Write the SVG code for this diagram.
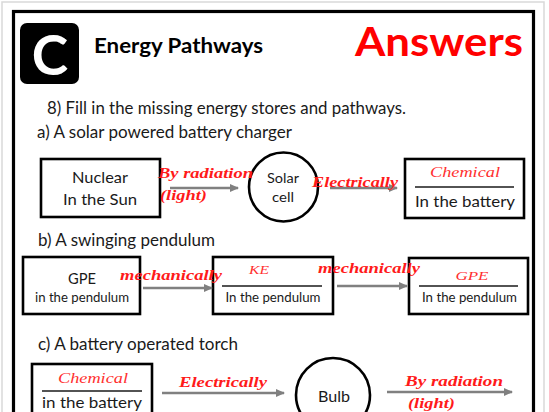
<svg xmlns="http://www.w3.org/2000/svg" width="549" height="412" viewBox="0 0 549 412">
<defs>
<style>
.t{font-family:Lato,"Liberation Sans",sans-serif;fill:#1a1a1a}
.b{fill:#fff;stroke:#000;stroke-width:2.6}
.r{font-family:"Liberation Serif",serif;font-style:italic;font-weight:bold;fill:#ff1a1a}
.rt{font-family:"Liberation Serif",serif;font-style:italic;font-weight:normal;fill:#ff3030}
.ul{stroke:#1a1a1a;stroke-width:1.3}
.ar{stroke:#808080;stroke-width:2.5;fill:none;marker-end:url(#ah)}
</style>
<marker id="ah" markerUnits="userSpaceOnUse" markerWidth="10" markerHeight="10" refX="8" refY="5" orient="auto">
<path d="M0,1 L9,5 L0,9 Z" fill="#808080"/>
</marker>
</defs>
<rect x="0" y="0" width="549" height="412" fill="#fff"/>
<rect x="2" y="2" width="542" height="420" fill="none" stroke="#d9d9d9" stroke-width="1.5"/>
<rect x="13.5" y="11.5" width="520" height="420" fill="none" stroke="#000" stroke-width="3.2"/>

<g id="header">
<rect x="20" y="23" width="59" height="61" rx="7" fill="#000"/>
<text x="50" y="75" text-anchor="middle" font-family="Lato,'Liberation Sans',sans-serif" font-weight="bold" font-size="55" fill="#fff">C</text>
<text x="94" y="53" font-family="Lato,'Liberation Sans',sans-serif" font-weight="bold" font-size="20" fill="#000" textLength="169" lengthAdjust="spacingAndGlyphs">Energy Pathways</text>
<text x="355" y="56" font-family="Lato,'Liberation Sans',sans-serif" font-weight="bold" font-size="40" fill="#ff0000" textLength="168" lengthAdjust="spacingAndGlyphs">Answers</text>
<text class="t" x="47" y="114" font-size="16.5" textLength="359" lengthAdjust="spacingAndGlyphs">8) Fill in the missing energy stores and pathways.</text>
<text class="t" x="37" y="138" font-size="16.5" textLength="255" lengthAdjust="spacingAndGlyphs">a) A solar powered battery charger</text>
<text class="t" x="38" y="246" font-size="16.5" textLength="177" lengthAdjust="spacingAndGlyphs">b) A swinging pendulum</text>
<text class="t" x="38" y="350" font-size="16.5" textLength="200" lengthAdjust="spacingAndGlyphs">c) A battery operated torch</text>
</g>

<g id="nuclear-sun">
<rect class="b" x="41" y="159" width="119" height="58"/>
<text class="t" x="100" y="183" font-size="16" text-anchor="middle" textLength="56" lengthAdjust="spacingAndGlyphs">Nuclear</text>
<text class="t" x="100" y="205" font-size="16" text-anchor="middle" textLength="74" lengthAdjust="spacingAndGlyphs">In the Sun</text>
</g>

<g id="solar-cell">
<circle class="b" cx="283.5" cy="187" r="34.5"/>
<text class="t" x="283" y="183" font-size="14" text-anchor="middle" textLength="32" lengthAdjust="spacingAndGlyphs">Solar</text>
<text class="t" x="283" y="202" font-size="14" text-anchor="middle" textLength="22" lengthAdjust="spacingAndGlyphs">cell</text>
</g>

<g id="battery-a">
<rect class="b" x="405" y="159" width="119" height="59"/>
<text class="rt" x="465" y="177" font-size="14" text-anchor="middle" textLength="70" lengthAdjust="spacingAndGlyphs">Chemical</text>
<line class="ul" x1="415" y1="187" x2="514" y2="187"/>
<text class="t" x="465" y="207" font-size="16" text-anchor="middle" textLength="100" lengthAdjust="spacingAndGlyphs">In the battery</text>
</g>

<g id="gpe-1">
<rect class="b" x="23" y="257" width="117" height="57"/>
<text class="t" x="82" y="284" font-size="16" text-anchor="middle" textLength="28" lengthAdjust="spacingAndGlyphs">GPE</text>
<text class="t" x="82" y="302" font-size="14" text-anchor="middle" textLength="94" lengthAdjust="spacingAndGlyphs">in the pendulum</text>
</g>

<g id="ke">
<rect class="b" x="213" y="257" width="120" height="57"/>
<text class="rt" x="259" y="274" font-size="13" text-anchor="middle" textLength="20" lengthAdjust="spacingAndGlyphs">KE</text>
<line class="ul" x1="222" y1="286" x2="322" y2="286"/>
<text class="t" x="273" y="302" font-size="14" text-anchor="middle" textLength="95" lengthAdjust="spacingAndGlyphs">In the pendulum</text>
</g>

<g id="gpe-2">
<rect class="b" x="409" y="258" width="119" height="56"/>
<text class="rt" x="472" y="280" font-size="13" text-anchor="middle" textLength="33" lengthAdjust="spacingAndGlyphs">GPE</text>
<line class="ul" x1="419" y1="286" x2="518" y2="286"/>
<text class="t" x="469.5" y="302" font-size="14" text-anchor="middle" textLength="95" lengthAdjust="spacingAndGlyphs">In the pendulum</text>
</g>

<g id="battery-c">
<rect class="b" x="32" y="364" width="120" height="60"/>
<text class="rt" x="93" y="383" font-size="14" text-anchor="middle" textLength="70" lengthAdjust="spacingAndGlyphs">Chemical</text>
<line class="ul" x1="42" y1="391" x2="142" y2="391"/>
<text class="t" x="92" y="408" font-size="16" text-anchor="middle" textLength="100" lengthAdjust="spacingAndGlyphs">in the battery</text>
</g>

<g id="bulb">
<circle class="b" cx="333" cy="395" r="37"/>
<text class="t" x="334" y="402" font-size="16" text-anchor="middle" textLength="32" lengthAdjust="spacingAndGlyphs">Bulb</text>
</g>

<g id="connectors">
<line class="ar" x1="170" y1="188" x2="238" y2="188"/>
<line class="ar" x1="330" y1="188" x2="397" y2="188"/>
<line class="ar" x1="143" y1="288" x2="212" y2="288"/>
<line class="ar" x1="337" y1="286" x2="407" y2="286"/>
<line class="ar" x1="162" y1="393" x2="284" y2="393"/>
<line class="ar" x1="387" y1="392" x2="512" y2="392"/>
<text class="r" x="158" y="178" font-size="15" textLength="95" lengthAdjust="spacingAndGlyphs">By radiation</text>
<text class="r" x="160" y="200" font-size="15" textLength="47" lengthAdjust="spacingAndGlyphs">(light)</text>
<text class="r" x="312" y="187" font-size="15" textLength="86" lengthAdjust="spacingAndGlyphs">Electrically</text>
<text class="r" x="120" y="280" font-size="15" textLength="102" lengthAdjust="spacingAndGlyphs">mechanically</text>
<text class="r" x="318" y="273" font-size="15" textLength="102" lengthAdjust="spacingAndGlyphs">mechanically</text>
<text class="r" x="179" y="387" font-size="15" textLength="88" lengthAdjust="spacingAndGlyphs">Electrically</text>
<text class="r" x="405" y="386" font-size="15" textLength="98" lengthAdjust="spacingAndGlyphs">By radiation</text>
<text class="r" x="408" y="408" font-size="15" textLength="47" lengthAdjust="spacingAndGlyphs">(light)</text>
</g>
</svg>
